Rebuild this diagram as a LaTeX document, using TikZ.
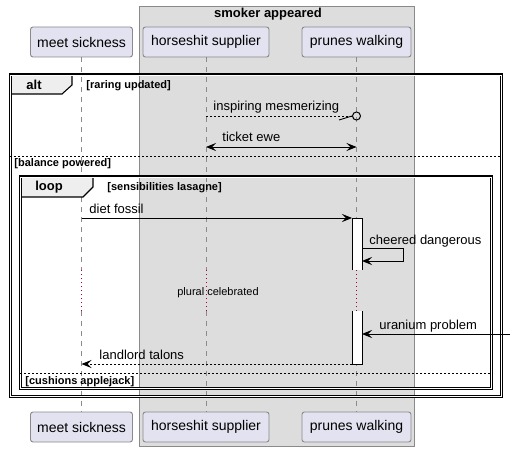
\documentclass[tikz,border=0pt]{standalone}
\usepackage{fontspec}
\setmainfont{Liberation Sans}
\usetikzlibrary{arrows.meta,positioning}

\definecolor{partfill}{HTML}{E2E2F0}
\definecolor{partline}{HTML}{8A8A8A}
\definecolor{groupfill}{HTML}{DDDDDD}
\definecolor{tabfill}{HTML}{EEEEEE}
\definecolor{delayred}{HTML}{A80036}

\begin{document}
\begin{tikzpicture}[
    x = 1pt, y = -1pt, % pixel grid, y pointing down
    > = {Stealth[length=10pt,width=8pt,inset=4pt]}, % arrow head style
    line width = 0.9pt
    ]

    \tikzset{
    participant/.style = {draw = partline, fill = partfill, rounded corners = 2.5pt,
        minimum height = 30pt, inner xsep = 0pt, font = \fontsize{14}{16}\selectfont},
    lifeline/.style = {draw = partline, line width = 0.8pt, dash pattern = on 5pt off 5pt},
    delayline/.style = {draw = delayred, line width = 0.8pt, dash pattern = on 1pt off 3pt},
    frame/.style = {draw = black, line width = 1.1pt, double = white, double distance = 0.8pt},
    tab/.style = {fill = tabfill, draw = black, line width = 1.1pt},
    separator/.style = {draw = black, line width = 0.7pt, dash pattern = on 2pt off 2pt},
    msg/.style = {draw = black, line width = 0.9pt},
    reply/.style = {msg, dash pattern = on 2pt off 2pt},
    msgtext/.style = {anchor = base west, inner sep = 0pt, font = \fontsize{13}{15}\selectfont},
    guard/.style = {anchor = base west, inner sep = 0pt, font = \fontsize{11}{13}\selectfont\bfseries},
    tabtext/.style = {anchor = base, inner sep = 0pt, font = \fontsize{13}{15}\selectfont\bfseries}
    }

    \useasboundingbox (0,0) rectangle (515,452);

    % box round the two right participants
    \filldraw[fill = groupfill, draw = partline, line width = 0.9pt] (139,6) rectangle (414,446);
    \node[tabtext] (grouptitle) at (268,18) {smoker appeared};

    % participants, top and bottom
    \node[participant, minimum width = 102pt] (ms) at (81.5,42) {meet sickness};
    \node[participant, minimum width = 126pt] (hs) at (206,42) {horseshit supplier};
    \node[participant, minimum width = 109pt] (pw) at (356.5,42) {prunes walking};
    \node[participant, minimum width = 102pt] (ms-b) at (81.5,427) {meet sickness};
    \node[participant, minimum width = 126pt] (hs-b) at (206,427) {horseshit supplier};
    \node[participant, minimum width = 109pt] (pw-b) at (356.5,427) {prunes walking};

    % lifelines with the delay
    \foreach \p in {ms,hs,pw} {
        \coordinate (\p-dA) at (\p.south |- 0,270);
        \coordinate (\p-dB) at (\p.south |- 0,311);
        \draw[lifeline] (\p.south) -- (\p-dA);
        \draw[delayline] (\p-dA) -- (\p-dB);
        \draw[lifeline] (\p-dB) -- (\p-b.north);
    }

    % alt frame
    \filldraw[tab] (10,75) -- (72,75) -- (72,85) -- (62,94) -- (10,94) -- cycle;
    \draw[frame] (10,75) rectangle (501,396);
    \node[tabtext] (alttab) at (34,90) {alt};
    \node[guard] (g1) at (86,89) {[raring updated]};
    \draw[separator] (10,156) -- (501,156);
    \node[guard] (g2) at (14,167) {[balance powered]};

    % loop frame
    \filldraw[tab] (20,177) -- (93,177) -- (93,187) -- (83,197) -- (20,197) -- cycle;
    \draw[frame] (20,177) rectangle (491,388);
    \node[tabtext] (looptab) at (49,190) {loop};
    \node[guard] (g3) at (107,190) {[sensibilities lasagne]};
    \draw[separator] (20,373) -- (491,373);
    \node[guard] (g4) at (25,384) {[cushions applejack]};

    % message end points
    \coordinate (im-a) at (hs.south |- 0,116);
    \coordinate (te-a) at (hs.south |- 0,147);
    \coordinate (te-b) at (pw.south |- 0,147);
    \coordinate (df-a) at (ms.south |- 0,218);
    \coordinate (df-b) at (352,218);
    \coordinate (cd-a) at (362,248);
    \coordinate (cd-b) at (403,248);
    \coordinate (cd-c) at (403,261);
    \coordinate (cd-d) at (362,261);
    \coordinate (up-a) at (510,334);
    \coordinate (up-b) at (362,334);
    \coordinate (lt-a) at (352,364);
    \coordinate (lt-b) at (ms.south |- 0,364);

    % activations on prunes walking
    \filldraw[fill = white, draw = black] (352,270) -- (352,218) -- (362,218) -- (362,270);
    \filldraw[fill = white, draw = black] (352,311) -- (352,364) -- (362,364) -- (362,311);

    % messages
    \node[circle, draw = black, line width = 1pt, minimum size = 8pt, inner sep = 0pt] (lost) at (pw.south |- 0,116) {};
    \draw[reply] (im-a) -- (lost.west);
    \draw[msg] (lost.west) -- ++(-13,4);
    \node[msgtext] (im) at (213,111) {inspiring mesmerizing};

    \draw[msg, <->] (te-a) -- (te-b);
    \node[msgtext] (te) at (222,142) {ticket ewe};

    \draw[msg, ->] (df-a) -- (df-b);
    \node[msgtext] (df) at (89,213) {diet fossil};

    \draw[msg, ->] (cd-a) -- (cd-b) -- (cd-c) -- (cd-d);
    \node[msgtext] (cd) at (369,244) {cheered dangerous};

    \node[anchor = base, inner sep = 0pt, font = \fontsize{11}{13}\selectfont] (delay) at (218,295) {plural celebrated};

    \draw[msg, ->] (up-a) -- (up-b);
    \node[msgtext] (up) at (379,329) {uranium problem};

    \draw[reply, ->] (lt-a) -- (lt-b);
    \node[msgtext] (lt) at (99,359) {landlord talons};
\end{tikzpicture}
\end{document}
